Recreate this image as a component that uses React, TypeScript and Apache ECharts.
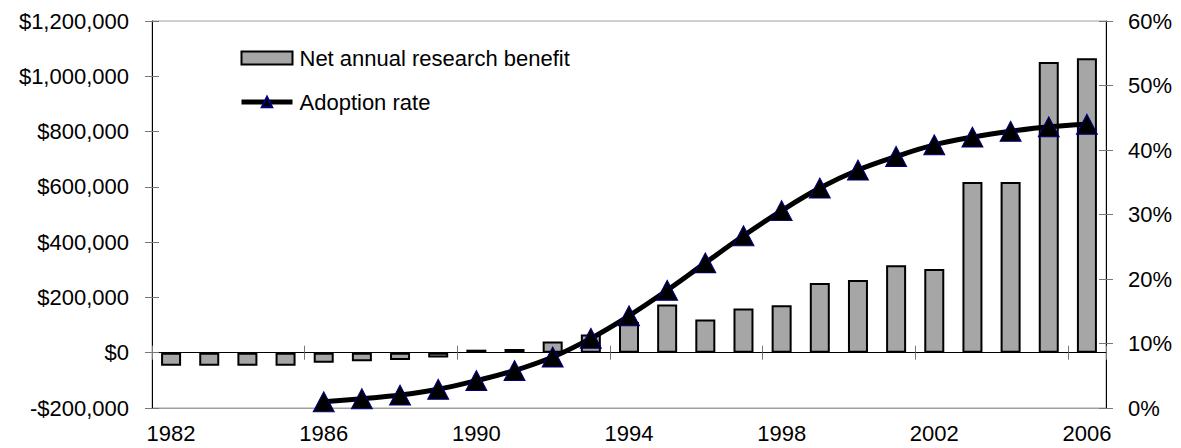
import React, { useEffect, useRef } from "react";
import * as echarts from "echarts";

const years = [
  "1982", "1983", "1984", "1985", "1986", "1987", "1988", "1989", "1990",
  "1991", "1992", "1993", "1994", "1995", "1996", "1997", "1998", "1999",
  "2000", "2001", "2002", "2003", "2004", "2005", "2006",
];

const netBenefit = [
  -47000, -47000, -47000, -47000, -36000, -31000, -26000, -17000, 11000,
  13000, 41000, 66000, 111000, 174000, 120000, 160000, 172000, 252000,
  263000, 316000, 303000, 618000, 618000, 1052000, 1065000,
];

const adoptionRate = [
  null, null, null, null, 0.0096, 0.0145, 0.02, 0.029, 0.0425, 0.058, 0.079,
  0.108, 0.143, 0.1825, 0.225, 0.267, 0.306, 0.341, 0.369, 0.39, 0.408,
  0.42, 0.429, 0.436, 0.44,
];

const seriesNames = ["Net annual research benefit", "Adoption rate"];

const FONT = "'Liberation Sans', Arial, sans-serif";

const moneyFmt = (v: number) =>
  (v < 0 ? "-" : "") + "$" + Math.abs(v).toLocaleString("en-US");
const pctFmt = (v: number) => Math.round(v * 100) + "%";

export default function App() {
  const ref = useRef<HTMLDivElement>(null);

  useEffect(() => {
    if (!ref.current) return;
    const chart = echarts.init(ref.current, undefined, { renderer: "svg" });
    const tickColor = "#777";
    const leftRange = { min: -200000, max: 1200000, interval: 200000 };
    const rightRange = { min: 0, max: 0.6, interval: 0.1 };
    chart.setOption({
      animation: false,
      backgroundColor: "#fff",
      textStyle: { fontFamily: FONT },
      grid: {
        left: 152,
        right: 75,
        top: 21,
        bottom: 40,
        show: true,
        borderColor: "#a0a0a0",
        borderWidth: 1,
        containLabel: false,
      },
      legend: {
        data: [
          { name: seriesNames[0], icon: "rect" },
          { name: seriesNames[1], lineStyle: { width: 5, color: "#000" } },
        ],
        orient: "vertical",
        left: 239,
        top: 47,
        padding: 0,
        itemWidth: 51,
        itemHeight: 13,
        itemGap: 22,
        textStyle: {
          fontFamily: FONT,
          fontSize: 22,
          lineHeight: 22,
          color: "#000",
          padding: [0, 0, 0, 2],
        },
      },
      xAxis: [
        {
          type: "category",
          data: years,
          position: "bottom",
          boundaryGap: true,
          axisLine: { onZero: false, lineStyle: { color: "#a0a0a0", width: 1 } },
          axisTick: { show: false },
          axisLabel: {
            interval: 3,
            fontFamily: FONT,
            fontSize: 22,
            color: "#000",
            margin: 14,
          },
          splitLine: { show: false },
        },
        {
          type: "category",
          data: years,
          position: "bottom",
          boundaryGap: true,
          axisLine: {
            onZero: true,
            onZeroAxisIndex: 0,
            lineStyle: { color: "#000", width: 1 },
          },
          axisTick: {
            show: true,
            interval: 3,
            length: 7,
            lineStyle: { color: tickColor },
          },
          axisLabel: { show: false },
          splitLine: { show: false },
        },
        {
          type: "category",
          data: years,
          position: "bottom",
          boundaryGap: true,
          axisLine: { show: false, onZero: true, onZeroAxisIndex: 0 },
          axisTick: {
            show: true,
            inside: true,
            interval: 3,
            length: 7,
            lineStyle: { color: tickColor },
          },
          axisLabel: { show: false },
          splitLine: { show: false },
        },
      ],
      yAxis: [
        {
          type: "value",
          position: "left",
          ...leftRange,
          axisLine: { show: true, lineStyle: { color: "#000", width: 1 } },
          axisTick: { show: true, length: 7, lineStyle: { color: tickColor } },
          axisLabel: {
            formatter: moneyFmt,
            fontFamily: FONT,
            fontSize: 22,
            color: "#000",
            margin: 23,
          },
          splitLine: { show: false },
        },
        {
          type: "value",
          position: "right",
          ...rightRange,
          axisLine: { show: true, lineStyle: { color: "#000", width: 1 } },
          axisTick: { show: true, length: 7, lineStyle: { color: tickColor } },
          axisLabel: {
            formatter: pctFmt,
            fontFamily: FONT,
            fontSize: 22,
            color: "#000",
            margin: 22,
          },
          splitLine: { show: false },
        },
        {
          type: "value",
          position: "left",
          ...leftRange,
          axisLine: { show: false },
          axisTick: {
            show: true,
            inside: true,
            length: 7,
            lineStyle: { color: tickColor },
          },
          axisLabel: { show: false },
          splitLine: { show: false },
        },
        {
          type: "value",
          position: "right",
          ...rightRange,
          axisLine: { show: false },
          axisTick: {
            show: true,
            inside: true,
            length: 7,
            lineStyle: { color: tickColor },
          },
          axisLabel: { show: false },
          splitLine: { show: false },
        },
      ],
      series: [
        {
          name: seriesNames[0],
          type: "bar",
          xAxisIndex: 0,
          yAxisIndex: 0,
          data: netBenefit,
          barWidth: 20,
          itemStyle: { color: "#a6a6a6", borderColor: "#000", borderWidth: 2 },
          z: 2,
        },
        {
          name: seriesNames[1],
          type: "line",
          xAxisIndex: 0,
          yAxisIndex: 1,
          data: adoptionRate,
          smooth: 0.4,
          connectNulls: false,
          lineStyle: { color: "#000", width: 5 },
          symbol: "triangle",
          symbolSize: [21, 20],
          itemStyle: { color: "#000", borderColor: "#000080", borderWidth: 1 },
          z: 5,
        },
      ],
    });
    return () => chart.dispose();
  }, []);

  return (
    <div
      ref={ref}
      style={{ position: "fixed", left: 0, top: 0, width: 1181, height: 448 }}
    />
  );
}
